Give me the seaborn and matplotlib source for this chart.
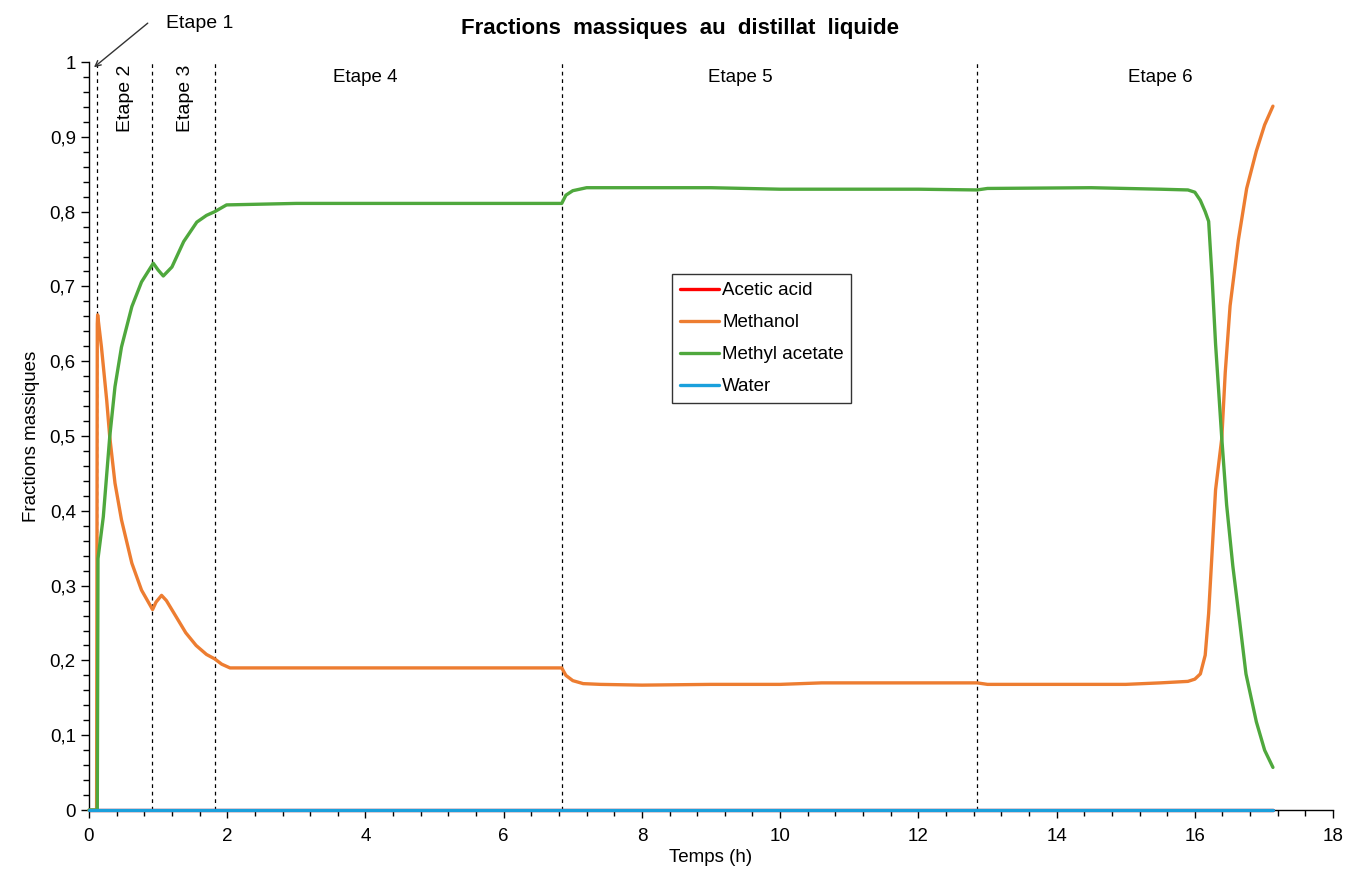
import numpy as np
import pandas as pd
import seaborn as sns
import matplotlib.pyplot as plt
from matplotlib.ticker import MultipleLocator, FuncFormatter

# Temps (h) et fractions massiques
t_acide = [0.0, 17.13]
x_acide = [0.0, 0.0]

t_methanol = [0.0, 0.11, 0.12, 0.125, 0.18, 0.256, 0.30, 0.376, 0.47, 0.62, 0.76,
              0.92, 0.97, 1.05, 1.12, 1.27, 1.4, 1.55, 1.7, 1.82, 1.92, 2.04, 3.0,
              5.0, 6.84, 6.9, 7.0, 7.15, 7.4, 8.0, 9.0, 10.0, 10.6, 12.0, 12.85,
              13.0, 14.0, 15.0, 15.5, 15.9, 16.0, 16.08, 16.15, 16.2, 16.25, 16.3,
              16.39, 16.44, 16.51, 16.63, 16.75, 16.89, 17.01, 17.13]
x_methanol = [0.0, 0.0, 0.65, 0.662, 0.619, 0.548, 0.499, 0.437, 0.388, 0.33, 0.294,
              0.268, 0.278, 0.287, 0.28, 0.257, 0.237, 0.22, 0.208, 0.202, 0.195, 0.19,
              0.19, 0.19, 0.19, 0.18, 0.173, 0.169, 0.168, 0.167, 0.168, 0.168, 0.170,
              0.170, 0.170, 0.168, 0.168, 0.168, 0.170, 0.172, 0.175, 0.182, 0.207,
              0.263, 0.345, 0.428, 0.497, 0.585, 0.674, 0.762, 0.831, 0.881, 0.916,
              0.941]

t_acetate = [0.0, 0.12, 0.13, 0.207, 0.30, 0.376, 0.47, 0.62, 0.76, 0.93, 1.0,
             1.075, 1.2, 1.37, 1.56, 1.7, 1.82, 1.99, 3.0, 5.0, 6.84, 6.9, 7.0,
             7.2, 7.5, 9.0, 10.0, 12.0, 12.85, 13.0, 14.5, 15.5, 15.9, 16.0, 16.08,
             16.15, 16.2, 16.25, 16.3, 16.345, 16.39, 16.46, 16.55, 16.65, 16.74,
             16.89, 17.01, 17.13]
x_acetate = [0.0, 0.0, 0.336, 0.392, 0.499, 0.566, 0.619, 0.673, 0.706, 0.731, 0.722,
             0.714, 0.726, 0.76, 0.786, 0.795, 0.80, 0.809, 0.811, 0.811, 0.811, 0.822,
             0.828, 0.832, 0.832, 0.832, 0.830, 0.830, 0.829, 0.831, 0.832, 0.830,
             0.829, 0.826, 0.815, 0.80, 0.787, 0.711, 0.623, 0.56, 0.497, 0.408,
             0.326, 0.251, 0.182, 0.118, 0.08, 0.057]

t_eau = [0.0, 17.13]
x_eau = [0.0, 0.0]

composants = ["Acetic acid", "Methanol", "Methyl acetate", "Water"]
couleurs = ["#FF0000", "#ED7D31", "#4FA83D", "#1AA0DC"]

etapes_t = [0.12, 0.91, 1.82, 6.84, 12.85]


def main():
    frames = []
    for nom, t, x in zip(composants,
                         [t_acide, t_methanol, t_acetate, t_eau],
                         [x_acide, x_methanol, x_acetate, x_eau]):
        frames.append(pd.DataFrame({"temps": t, "fraction": x, "composant": nom}))
    df = pd.concat(frames, ignore_index=True)

    sns.set_style("ticks")
    plt.rcParams["font.family"] = ["Liberation Sans", "DejaVu Sans"]
    plt.rcParams["text.color"] = "black"
    plt.rcParams["axes.labelcolor"] = "black"
    plt.rcParams["xtick.color"] = "black"
    plt.rcParams["ytick.color"] = "black"

    fig = plt.figure(figsize=(13.65, 8.8), dpi=100)
    ax = fig.add_axes([0.0652, 0.0795, 0.9114, 0.85])

    for t in etapes_t:
        ax.plot([t, t], [0, 1], color="black", lw=0.9, ls=(0, (3, 3)), zorder=1)

    sns.lineplot(data=df, x="temps", y="fraction", hue="composant",
                 hue_order=composants, palette=couleurs, estimator=None,
                 sort=False, lw=2.4, ax=ax)
    for line in ax.get_lines()[len(etapes_t):]:
        line.set_clip_on(False)
        line.set_zorder(4)

    ax.set_xlim(0, 18)
    ax.set_ylim(0, 1)
    ax.xaxis.set_major_locator(MultipleLocator(2))
    ax.xaxis.set_minor_locator(MultipleLocator(0.4))
    ax.yaxis.set_major_locator(MultipleLocator(0.1))
    ax.yaxis.set_minor_locator(MultipleLocator(0.02))
    fmt = FuncFormatter(lambda v, p: f"{v:g}".replace(".", ","))
    ax.xaxis.set_major_formatter(fmt)
    ax.yaxis.set_major_formatter(fmt)
    ax.tick_params(which="major", length=6, width=1, labelsize=13.5)
    ax.tick_params(which="minor", length=4, width=1)
    ax.tick_params(axis="x", pad=7)
    sns.despine(ax=ax)
    for s in ["left", "bottom"]:
        ax.spines[s].set_color("black")
        ax.spines[s].set_linewidth(1)

    ax.set_xlabel("Temps (h)", fontsize=13.5, labelpad=3)
    ax.set_ylabel("Fractions massiques", fontsize=13.5, labelpad=7)
    fig.text(0.498, 0.968, "Fractions  massiques  au  distillat  liquide",
             ha="center", va="center", fontsize=16, fontweight="bold")

    ax.annotate("", xy=(0.072, 0.993), xytext=(0.85, 1.052),
                annotation_clip=False,
                arrowprops=dict(arrowstyle="->", color="#333333", lw=1,
                                shrinkA=0, shrinkB=0))
    ax.text(1.11, 1.052, "Etape 1", ha="left", va="center", fontsize=14,
            clip_on=False)
    ax.text(0.53, 0.952, "Etape 2", rotation=90, ha="center", va="center", fontsize=14)
    ax.text(1.40, 0.952, "Etape 3", rotation=90, ha="center", va="center", fontsize=14)
    ax.text(4.0, 0.98, "Etape 4", ha="center", va="center", fontsize=13.5)
    ax.text(9.42, 0.98, "Etape 5", ha="center", va="center", fontsize=13.5)
    ax.text(15.5, 0.98, "Etape 6", ha="center", va="center", fontsize=13.5)

    leg = ax.legend(loc="upper left", bbox_to_anchor=(0.469, 0.716), fontsize=13.5,
                    frameon=True, fancybox=False, handlelength=2.1,
                    handletextpad=0.15, labelspacing=0.8, borderpad=0.4,
                    borderaxespad=0)
    leg.get_frame().set_edgecolor("black")
    leg.get_frame().set_linewidth(1)
    for line in leg.get_lines():
        line.set_linewidth(2.4)

    fig.savefig("out.png", dpi=100)
    plt.close(fig)


if __name__ == "__main__":
    main()
